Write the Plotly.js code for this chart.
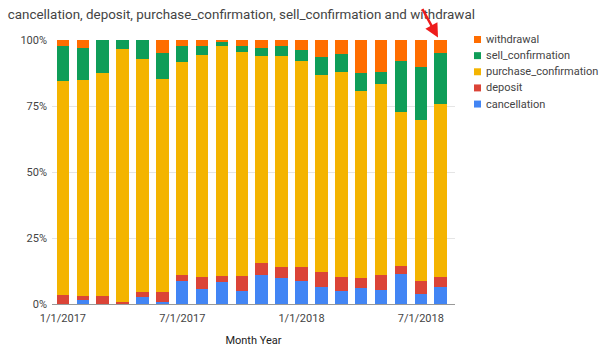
<!DOCTYPE html>
<html>
<head>
<meta charset="utf-8">
<script src="https://cdn.plot.ly/plotly-3.0.1.min.js"></script>
<style>html,body{margin:0;padding:0;background:#fff;}#chart{width:600px;height:353px;}</style>
</head>
<body>
<div id="chart"></div>
<script>
const months = ["1/1/2017","2/1/2017","3/1/2017","4/1/2017","5/1/2017","6/1/2017","7/1/2017","8/1/2017","9/1/2017","10/1/2017","11/1/2017","12/1/2017","1/1/2018","2/1/2018","3/1/2018","4/1/2018","5/1/2018","6/1/2018","7/1/2018","8/1/2018"];
const cancellation = [0, 1.5, 0, 0, 2.5, 0.6, 8.9, 5.5, 8.2, 4.9, 10.8, 9.8, 8.9, 6.5, 4.9, 5.9, 5.2, 11.2, 3.7, 6.3];
const deposit = [3.3, 1.5, 3.0, 0.8, 1.9, 3.9, 2.1, 4.6, 2.5, 5.7, 4.9, 4.4, 5.0, 5.8, 5.5, 3.8, 5.8, 3.3, 4.9, 3.9];
const purchase_confirmation = [81.1, 81.9, 84.5, 95.7, 88.3, 80.6, 80.7, 84.3, 86.9, 84.8, 78.4, 79.7, 78.2, 74.5, 77.4, 70.9, 72.3, 58.2, 61.1, 65.7];
const sell_confirmation = [13.3, 12.1, 12.5, 3.5, 7.3, 9.9, 6.0, 3.3, 1.8, 2.3, 2.8, 4.0, 4.0, 6.9, 6.8, 6.8, 4.7, 19.5, 19.9, 19.2];
const withdrawal = [2.3, 3.0, 0, 0, 0, 5.0, 2.3, 2.3, 0.6, 2.3, 3.1, 2.1, 3.9, 6.3, 5.4, 12.6, 12.0, 7.8, 10.4, 4.9];
const tickLabels = ["1/1/2017","7/1/2017","1/1/2018","7/1/2018"];
const tickIdx = [0, 6, 12, 18];
const yTickVals = [0, 25, 50, 75, 100];
const yTickLabels = ["0%", "25%", "50%", "75%", "100%"];

const series = [
  {name:"cancellation", y:cancellation, color:"#4285F4"},
  {name:"deposit", y:deposit, color:"#DB4437"},
  {name:"purchase_confirmation", y:purchase_confirmation, color:"#F4B400"},
  {name:"sell_confirmation", y:sell_confirmation, color:"#0F9D58"},
  {name:"withdrawal", y:withdrawal, color:"#FF6D00"}
];
const xs = months.map((m,i)=>i);
const data = series.map(s=>({
  type:"bar", name:s.name, x:xs, y:s.y, width:0.63,
  marker:{color:s.color, line:{width:0}}, showlegend:false
}));

// Legend drawn as shapes + text (Google Charts style, compact spacing)
const W = 600, H = 353, L = 52, R = 145, T = 39.5, B = 48.5;
const pw = W - L - R, ph = H - T - B;
const px2x = p => (p - L) / pw;
const py2y = p => (H - B - p) / ph;
const shapes = [];
const annotations = [];
const legendOrder = series.slice().reverse();
legendOrder.forEach((s, i) => {
  const cy = 39 + i * 16.2;
  shapes.push({type:"rect", xref:"paper", yref:"paper",
    x0:px2x(474), x1:px2x(481), y0:py2y(cy + 3.5), y1:py2y(cy - 3.5),
    fillcolor:s.color, line:{width:0}});
  annotations.push({xref:"paper", yref:"paper", x:px2x(484), y:py2y(cy),
    xanchor:"left", yanchor:"middle", text:s.name, showarrow:false,
    font:{size:11, color:"#444"}});
});
// red pointer arrow (tip near the top of the last bar)
annotations.push({x:px2x(438), y:py2y(37), xref:"paper", yref:"paper", ax:-17, ay:-31, text:" ",
  font:{size:2}, showarrow:true, arrowhead:2, arrowsize:1.1, arrowwidth:2.5, arrowcolor:"#ee1c1c"});

const layout = {
  width:W, height:H,
  margin:{l:L, r:R, t:T, b:B},
  paper_bgcolor:"#fff", plot_bgcolor:"#fff",
  barmode:"stack",
  font:{family:"Roboto, Arial, sans-serif", color:"#444", size:11},
  title:{text:"cancellation, deposit, purchase_confirmation, sell_confirmation and withdrawal",
    x:0.013, xanchor:"left", y:0.96, yanchor:"middle", font:{size:13.4, color:"#444"}},
  xaxis:{range:[-0.55, 19.72], tickmode:"array", tickvals:tickIdx, ticktext:tickLabels,
    showgrid:false, zeroline:false, showline:true, linecolor:"#999", linewidth:1,
    ticks:"", ticklabelstandoff:4, tickfont:{size:11, color:"#444"},
    title:{text:"Month Year", font:{size:11, color:"#222"}, standoff:12}},
  yaxis:{range:[0,100], tickmode:"array", tickvals:yTickVals, ticktext:yTickLabels, showgrid:true,
    gridcolor:"#e5e5e5", zeroline:false, showline:false, ticks:"", ticklabelstandoff:4,
    tickfont:{size:11, color:"#444"}},
  showlegend:false,
  shapes:shapes,
  annotations:annotations
};
Plotly.newPlot("chart", data, layout, {displayModeBar:false, staticPlot:true});
</script>
</body>
</html>
